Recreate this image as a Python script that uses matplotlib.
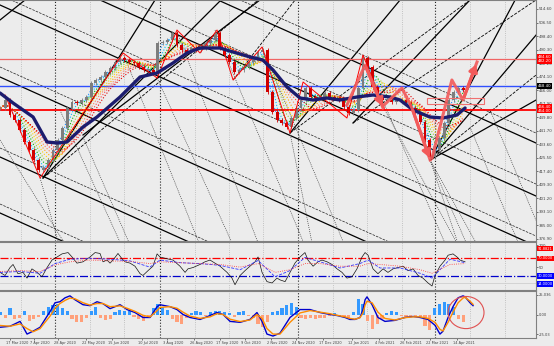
import numpy as np
import pandas as pd
import matplotlib.pyplot as plt
from matplotlib.patches import Rectangle, Ellipse, FancyArrowPatch
import matplotlib.transforms as mtrans

# ---- data (x in trading-day bars from 17 Mar 2020) ----
# closes sampled every 3 bars starting at bar -6
close = [455, 460, 451, 448, 442, 435, 430, 424, 418, 419, 424, 430, 436, 443, 455, 459,
         458, 460, 462, 470, 472, 474, 477, 479, 483, 485, 484, 483, 482, 480, 478, 478,
         476, 494, 495, 496, 500, 493, 490, 489, 491, 490, 491, 494, 496, 500, 491, 487,
         483, 477, 478, 480, 483, 485, 489, 490, 465, 453, 448, 446, 444, 449, 455, 460,
         467, 462, 461, 462, 464, 462, 461, 460, 456, 452, 454, 467, 485, 480, 468, 462,
         460, 460, 459, 460, 460, 458, 455, 452, 447, 436, 426, 430, 437, 446, 460, 465,
         467, 466]

ma_x = [-6.3, 1.9, 14.5, 23.3, 29.6, 35.8, 45.9, 54.7, 69.2, 81.8, 92.5, 102.5, 111.3,
        119.5, 132, 140.3, 151, 159, 165.4, 174.2, 182.4, 190.6, 199.4, 207.5, 218.2,
        228.3, 239, 245.3, 253.5, 264, 272.3, 281.1, 286.2]
ma_p = [464.2, 458.2, 449.8, 434.8, 434.2, 434.8, 443.8, 449.8, 461.8, 473.8, 476.2,
        482.2, 488.2, 491.2, 491.2, 488.8, 485.8, 484, 478, 467.8, 461.2, 460, 461.2, 460,
        461.8, 463, 461.8, 460, 454, 449.8, 449.2, 451, 455.2]

zz_x = [-3.1, 18.9, 71.1, 92.5, 105, 119.5, 130.2, 140.3, 158.5, 176.1, 184.3, 211.9, 222, 235.8]
zz_p = [463, 413.2, 488.2, 473.2, 502, 488.2, 502, 472, 491.8, 440.2, 470.8, 449.2, 487, 454]

red_level, blue_level, pink_level = 454.0, 468.4, 484.6

# hand drawn arrows (bar, price)
arrow_paths = [
    ([211.9, 223.3, 234.6], [457, 481, 455.2]),
    ([234.6, 246.5, 252.8, 264.2], [456.4, 467.2, 455.2, 424]),
    ([265.4, 277.9, 284.9, 293.7], [425.2, 472, 460, 482.8]),
]
box_x, box_p = (262.3, 298.1), (457.6, 461.2)

# trendlines: anchor bar, anchor price, slope (price per bar), style
rising = [(20.75, 413.2, 1.516, '-'), (20.75, 413.2, 0.954, '-'), (23.3, 415, 0.791, '--'),
          (45.9, 439, 0.728, '-'), (140.3, 472, 1.231, '--'), (176.1, 440.2, 1.153, '-'),
          (176.1, 440.2, 0.705, '--'), (215.7, 446.2, 1.003, '-'), (215.7, 446.2, 0.641, '--'),
          (264.2, 424, 1.796, '-'), (264.2, 424, 1.125, '-'), (264.2, 424, 0.765, '--'),
          (264.2, 424, 0.54, '-'), (-6.3, 508, 0.763, '-')]
chan_slope = -0.429
chan_solid = [578.8, 547, 517, 473.8, 425.8, 392.2]
chan_dash = [584.8, 554.2, 523, 479.8, 431.2, 397.6]
steep = [(-6.3, 436, -1.526), (18.9, 413.2, -3.34), (31.4, 454, -2.1), (45.9, 437.8, -2.19),
         (71.1, 488.2, -2.385), (92.5, 473.2, -2.1), (105, 500.8, -2.48), (128.9, 502, -2.29),
         (158.5, 491.8, -2.29), (176.1, 440.2, -4.77), (222, 487, -2.19), (235.8, 454, -1.765),
         (264.2, 424, -2.86), (264.2, 424, -2.19), (264.2, 424, -1.72), (289.3, 443.8, -2.29),
         (301.9, 454, -2.29)]

# oscillator (0-100)
osc_x = [-6.3, -3.1, 0, 1.9, 5, 8.2, 10.7, 13.8, 17, 20.1, 23.3, 26.4, 29.6, 32.7, 36.5, 39,
         42.1, 45.9, 50.3, 53.5, 56.6, 58.5, 61, 62.9, 64.8, 67.9, 70.4, 72.3, 75.5, 78.6,
         81.8, 83.6, 86.8, 89.9, 92.5, 94.3, 98.7, 102.5, 106.9, 110.1, 111.9, 115.1, 119.5,
         122.6, 125.8, 128.9, 132.1, 136.5, 139.6, 141.5, 144.7, 147.8, 150.9, 154.1, 156,
         158.5, 161.6, 164.8, 167.9, 169.8, 173, 176.1, 179.2, 182.4, 185.5, 187.4, 190.6,
         193.7, 196.2, 199.4, 202.5, 205.7, 208.8, 211.9, 215.1, 218.2, 221.4, 223.3, 225.2,
         228.3, 231.4, 234.6, 237.7, 240.9, 244, 247.2, 250.3, 253.5, 256.6, 259.7, 262.9,
         265.4, 267.3, 270.4, 273.6, 275.5, 278.6, 281.1, 283, 286.2]
osc_black = [38, 31, 49, 56, 35, 38, 25, 46, 38, 28, 49, 66, 73, 80, 83, 73, 59, 62, 73, 83,
             81, 62, 66, 59, 66, 81, 69, 62, 59, 52, 35, 31, 42, 52, 80, 73, 69, 66, 52, 38,
             46, 49, 56, 62, 66, 59, 52, 38, 25, 10, 31, 42, 52, 62, 73, 38, 17, 14, 25, 21,
             17, 38, 59, 73, 83, 66, 52, 62, 66, 62, 56, 46, 38, 25, 28, 46, 73, 83, 77, 46,
             35, 46, 38, 46, 49, 52, 42, 46, 31, 25, 14, 7, 31, 52, 66, 77, 80, 73, 66, 62]
sm_x = [-6.3, 6.3, 18.9, 28.3, 37.7, 50.3, 62.9, 75.5, 88, 94.3, 107, 119.5, 132, 144.7,
        156, 166.7, 176, 185.5, 195, 207.5, 220, 225.2, 232.7, 245.3, 257.9, 265.4, 276.7, 286.2]
osc_blue = [38, 40, 36, 58, 68, 70, 68, 64, 50, 66, 60, 58, 54, 44, 65, 28, 42, 72, 62, 48,
            58, 66, 48, 48, 36, 25, 68, 60]
osc_red = [40, 42, 40, 55, 62, 66, 64, 63, 58, 62, 60, 58, 56, 50, 58, 38, 44, 58, 58, 52,
           52, 58, 56, 52, 44, 36, 56, 58]

# MACD
macd_x = [-6.3, 0, 6.3, 10.7, 14.5, 18.9, 22, 25.2, 28.3, 31.4, 34.6, 37.7, 40.9, 45.9, 50.3,
          54.7, 58.5, 62.9, 69.2, 73.6, 78.6, 83.6, 88.1, 92.5, 94.3, 100.6, 105, 108.8,
          113.2, 119.5, 125.8, 130.2, 134, 138.4, 144.7, 150.9, 155.3, 158.5, 161.6, 165.4,
          169.8, 176.1, 182.4, 188.7, 195, 201.3, 205.7, 210.7, 213.8, 217, 220.1, 222,
          223.3, 224.5, 227.7, 231.4, 235.8, 242.1, 248.4, 253.5, 257.9, 262.9, 267.3,
          270.4, 272.3, 275.5, 278.6, 281.8, 284.9, 286.2, 289.3, 291.2]
macd = [-16.3, -15, -8.8, -25, -21.3, -16.3, -6.3, 3.8, 15, 16.3, 21.3, 23.8, 18.8, 12.5,
        11.3, 16.3, 13.8, 7.5, 12.5, 6.3, 2.5, -3.8, -3.8, 10, 12.5, 10, 6.3, 0, -3.8, -6.3,
        -1.3, 2.5, 0, -8.8, -10, -6.3, 2.5, -8.8, -25, -27.5, -23.8, -3.8, 6.3, 6.3, 2.5, 0,
        -1.3, -3.8, -6.3, -6.3, -3.8, 6.3, 18.8, 22.5, 12.5, -3.8, -8.8, -7.5, -3.8, -2.5,
        -3.8, -6.3, -13.8, -25, -21.3, -3.8, 10, 21.3, 23.8, 22.5, 15, 11.3]
signal = [-14, -15, -12, -18, -22, -18, -10, -2, 8, 14, 18, 21, 20, 15, 12, 14, 14, 10, 11,
          8, 4, -1, -3, 5, 9, 10, 8, 3, -2, -5, -3, 1, 0, -6, -9, -7, 0, -5, -18, -25, -25,
          -10, 2, 5, 3, 1, -1, -3, -5, -6, -4, 2, 12, 17, 15, 3, -5, -7, -4, -3, -3, -5, -10,
          -19, -21, -10, 3, 15, 21, 22, 17, 13]
hist = [3, -5, 8, -6, -4, 5, -8, -6, -3, 4, 10, 12, 14, 8, 5, -6, -9, -10, -5, 4, 10, -4,
        -7, -6, 3, 6, 5, 4, -3, -6, -8, -4, 8, 14, 10, 6, -6, -10, -12, -5, 2, 5, 3, -2, 3,
        4, 4, 3, 2, -3, 3, 4, -2, -4, -12, -16, -10, 3, 5, 8, 12, 15, 10, -4, -6, -5, -6,
        -5, -4, -2, 2, -2, -3, -4, 3, 20, 14, -8, -18, -12, -6, 2, 4, 3, -2, -3, -2, -3, -5,
        -15, -20, 8, 14, 16, 14, 10, -6, -9]

date_labels = ['17 Mar 2020', '7 Apr 2020', '28 Apr 2020', '22 May 2020', '15 Jun 2020',
               '10 Jul 2020', '3 Aug 2020', '26 Aug 2020', '17 Sep 2020', '9 Oct 2020',
               '2 Nov 2020', '24 Nov 2020', '17 Dec 2020', '12 Jan 2021', '4 Feb 2021',
               '26 Feb 2021', '22 Mar 2021', '14 Apr 2021']
vgrid = [6.9, 28.3, 50.3, 71.7, 94.3, 116.4, 137.7, 159.1, 181.1, 203.1, 224.5, 246.5,
         267.3, 289.3, 311.3]
vgrid_dark = [28.3, 94.3, 181.1, 267.3]

# ---- figure ----
bg = '#ececec'
fig = plt.figure(figsize=(5.54, 3.46), dpi=100, facecolor=bg)
W = 536 / 554
ax1 = fig.add_axes([0, 105 / 346, W, 241 / 346])
ax2 = fig.add_axes([0, 56 / 346, W, 48 / 346], sharex=ax1)
ax3 = fig.add_axes([0, 8 / 346, W, 47 / 346], sharex=ax1)

x0, x1 = -6.3, 330.8
for ax in (ax1, ax2, ax3):
    ax.set_facecolor(bg)
    ax.spines['left'].set_visible(False)
    for s in ('top', 'bottom', 'right'):
        ax.spines[s].set_color('#808080')
        ax.spines[s].set_linewidth(0.8)
    ax.yaxis.tick_right()
    ax.tick_params(axis='y', labelsize=2.8, length=1.2, width=0.5, pad=0.8,
                   colors='#404040')
    for v in vgrid:
        dark = v in vgrid_dark
        ax.axvline(v, color='#222222' if dark else '#b4b4b4', ls=':',
                   lw=0.8 if dark else 0.6, zorder=1)
ax1.set_xlim(x0, x1)
ax1.tick_params(axis='x', bottom=False, labelbottom=False)
ax2.tick_params(axis='x', bottom=False, labelbottom=False)

# main price panel
ax1.set_ylim(375.4, 520)
xs = -6 + 3 * np.arange(len(close))

for bx, bp, sl, ls in rising:
    rx = np.array([bx, x1])
    ax1.plot(rx, bp + sl * (rx - bx), color='black', ls=ls,
             lw=0.9 if ls == '-' else 0.6, zorder=2)
xx = np.array([x0, x1])
for p in chan_solid:
    ax1.plot(xx, p + chan_slope * (xx - x0), color='black', lw=0.9, zorder=2)
for p in chan_dash:
    ax1.plot(xx, p + chan_slope * (xx - x0), color='#222222', lw=0.5, ls='--', zorder=2)
for bx, bp, sl in steep:
    sx = np.array([bx, x1])
    ax1.plot(sx, bp + sl * (sx - bx), color='#444444', lw=0.5, ls=(0, (1.5, 1.5)), zorder=2)

ax1.axhline(pink_level, color='#f06464', lw=0.9, zorder=2)
ax1.axhline(blue_level, color='#3050ff', lw=1.0, zorder=2)
ax1.axhline(red_level, color='#ff0000', lw=1.3, zorder=2)

s = pd.Series(close, dtype=float)
rainbow = ['#1e90ff', '#00bfff', '#00b000', '#9acd32', '#ffd700', '#ffa500',
           '#ff7f50', '#ff4040', '#e00000']
for k, c in enumerate(rainbow):
    ax1.plot(xs, s.rolling(k + 2, min_periods=1).mean(), color=c, lw=0.8, ls=':', zorder=3)

opens = [close[0]] + close[:-1]
for x, o, c in zip(xs, opens, close):
    col = '#7d7d7d' if c >= o else '#d00000'
    ax1.vlines(x, min(o, c) - 1.2, max(o, c) + 1.2, color=col, lw=0.6, zorder=3)
    ax1.bar(x, max(abs(c - o), 0.5), bottom=min(o, c), width=1.8, color=col, zorder=3)

ax1.plot(zz_x, zz_p, color='#ff0000', lw=0.7, zorder=4)
ax1.plot(ma_x, ma_p, color='#1c1c6e', lw=2.4, zorder=4, solid_capstyle='round')

for px, pp in arrow_paths:
    ax1.plot(px, pp, color='#f25a5a', lw=2.2, alpha=0.9, zorder=5)
    ax1.add_patch(FancyArrowPatch((px[-2], pp[-2]), (px[-1], pp[-1]),
                                  arrowstyle='-|>,head_length=4,head_width=2.5',
                                  color='#f25a5a', lw=2.2, zorder=5))
ax1.add_patch(Rectangle((box_x[0], box_p[0]), box_x[1] - box_x[0], box_p[1] - box_p[0],
                        fill=False, ec='#f07070', lw=0.8, zorder=5))

pticks = np.arange(514.6, 376, -8.1)
ax1.set_yticks(pticks)
ax1.set_yticklabels([f'{v:.2f}' for v in pticks])
trans1 = mtrans.blended_transform_factory(ax1.transAxes, ax1.transData)
for yv, txt, fc in [(pink_level, '484.60\n482.20', '#ff0000'),
                    (blue_level, '468.40', '#000000'),
                    (red_level + 0.9, '456.40\n454.00', '#ff0000')]:
    ax1.text(1.003, yv, txt, transform=trans1, fontsize=2.8, color='white', va='center',
             ha='left', linespacing=1.0,
             bbox=dict(boxstyle='square,pad=0.25', fc=fc, ec='none'), zorder=6, clip_on=False)

# oscillator panel
ax2.set_ylim(-2, 107)
ax2.axhline(70, color='#ff0000', lw=0.9, ls='-.')
ax2.axhline(30, color='#0000cc', lw=0.9, ls='-.')
ax2.axhline(14, color='#cfcfcf', lw=0.6)
ax2.plot(osc_x, osc_black, color='#111111', lw=0.5)
ax2.plot(sm_x, osc_blue, color='#3333ff', lw=0.6, ls='--')
ax2.plot(sm_x, osc_red, color='#ff3030', lw=0.6, ls=':')
ax2.set_yticks([100, 50])
ax2.set_yticklabels(['100', '50'])
trans2 = mtrans.blended_transform_factory(ax2.transAxes, ax2.transData)
for yv, txt, fc in [(92, '91.8821', '#ff0000'), (70, '70.0000', '#ff0000'),
                    (30, '30.0000', '#0000ff'), (12, '14.0000', '#0000ff')]:
    ax2.text(1.003, yv, txt, transform=trans2, fontsize=2.6, color='white', va='center',
             ha='left', bbox=dict(boxstyle='square,pad=0.2', fc=fc, ec='none'),
             clip_on=False)

# MACD panel
ax3.set_ylim(-30, 30)
hx = -6 + 3 * np.arange(len(hist))
hv = np.array(hist, dtype=float)
ax3.bar(hx, hv, width=2.0, color=np.where(hv >= 0, '#3399ff', '#ffa07a'), zorder=2)
ax3.plot(macd_x, macd, color='#0000cc', lw=1.0, zorder=3)
ax3.plot(macd_x, signal, color='#ff8c00', lw=1.0, zorder=3)
ax3.add_patch(Ellipse((286.8, 2.5), 22.6, 41, fill=False, ec='#e05050', lw=0.8, zorder=4))
ax3.set_yticks([25, 0, -25])
ax3.set_yticklabels(['25.036', '0.00', '-25.03'])
ax3.tick_params(axis='y', labelsize=2.6)

days = pd.bdate_range('2020-03-17', '2021-05-31')
tick_pos = [days.get_indexer([pd.Timestamp(d)], method='nearest')[0] for d in date_labels]
ax3.set_xticks(tick_pos)
ax3.set_xticklabels(date_labels)
ax3.tick_params(axis='x', labelsize=2.5, length=1.2, width=0.5, pad=0.8, colors='#404040')
shift = mtrans.ScaledTranslation(-4 / 100, 0, fig.dpi_scale_trans)
for lab in ax3.get_xticklabels():
    lab.set_horizontalalignment('left')
    lab.set_transform(lab.get_transform() + shift)

fig.savefig('out.png', dpi=100, facecolor=bg)
